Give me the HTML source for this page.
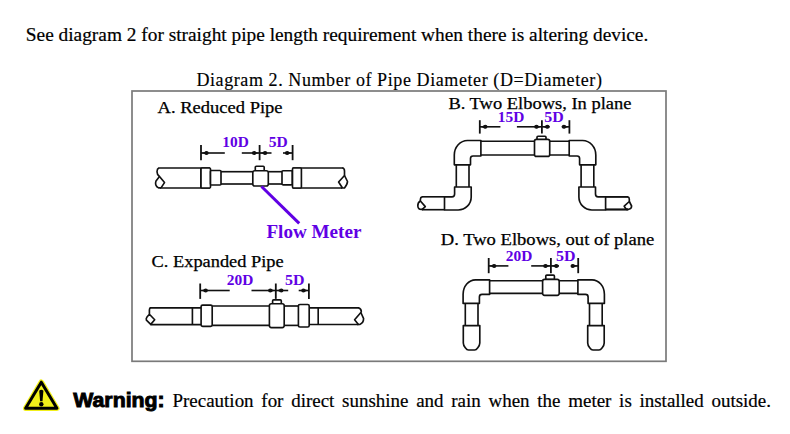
<!DOCTYPE html><html><head><meta charset="utf-8"><style>html,body{margin:0;padding:0;background:#fff;width:790px;height:434px;overflow:hidden}svg{display:block}</style></head><body><svg width="790" height="434" viewBox="0 0 790 434">
<rect width="790" height="434" fill="#fff"/>
<text x="25.8" y="41.3" font-family="Liberation Serif" font-size="19.5" font-weight="normal" fill="#000" stroke="#000" stroke-width="0.2" textLength="622.5" lengthAdjust="spacingAndGlyphs" >See diagram 2 for straight pipe length requirement when there is altering device.</text>
<text x="196.4" y="85.8" font-family="Liberation Serif" font-size="18" font-weight="normal" fill="#000" stroke="#000" stroke-width="0.15" textLength="405.5" lengthAdjust="spacing" >Diagram 2. Number of Pipe Diameter (D=Diameter)</text>
<rect x="132" y="91" width="534" height="270.3" fill="none" stroke="#7a7a7a" stroke-width="1.7"/>
<text x="157.6" y="112.5" font-family="Liberation Serif" font-size="16.5" font-weight="normal" fill="#000" stroke="#000" stroke-width="0.25" textLength="125" lengthAdjust="spacingAndGlyphs" >A. Reduced Pipe</text>
<text x="448.4" y="108.7" font-family="Liberation Serif" font-size="16.5" font-weight="normal" fill="#000" stroke="#000" stroke-width="0.25" textLength="183" lengthAdjust="spacingAndGlyphs" >B. Two Elbows, In plane</text>
<text x="151.6" y="266.6" font-family="Liberation Serif" font-size="16.5" font-weight="normal" fill="#000" stroke="#000" stroke-width="0.25" textLength="132" lengthAdjust="spacingAndGlyphs" >C. Expanded Pipe</text>
<text x="440.8" y="244.8" font-family="Liberation Serif" font-size="16.5" font-weight="normal" fill="#000" stroke="#000" stroke-width="0.25" textLength="213.5" lengthAdjust="spacingAndGlyphs" >D. Two Elbows, out of plane</text>
<line x1="159" y1="168" x2="210" y2="168" stroke="#111" stroke-width="1.65"/>
<line x1="160" y1="188" x2="210" y2="188" stroke="#111" stroke-width="1.65"/>
<line x1="201" y1="168" x2="201" y2="188" stroke="#111" stroke-width="1.65"/>
<path d="M159 167.8 C156.5 169.0 156 174.0 159.5 176.5 L164.5 182.60000000000002 L161 187.9" stroke="#111" stroke-width="1.65" fill="none" stroke-linejoin="round"/>
<path d="M159.5 176.5 L156 181.0 C155 183.8 156 186.5 158.5 187.9 L161 187.9" stroke="#111" stroke-width="1.65" fill="none" stroke-linejoin="round"/>
<rect x="201" y="168" width="9.5" height="20" rx="1" stroke="#111" stroke-width="1.65" fill="#fff"/>
<rect x="210.5" y="170.5" width="10.5" height="14.5" rx="1" stroke="#111" stroke-width="1.65" fill="#fff"/>
<line x1="221" y1="171.7" x2="253" y2="171.7" stroke="#111" stroke-width="1.65"/>
<line x1="221" y1="184" x2="253" y2="184" stroke="#111" stroke-width="1.65"/>
<rect x="255.3" y="166.2" width="8.899999999999977" height="4.800000000000011" rx="1" stroke="#111" stroke-width="1.65" fill="#fff"/>
<rect x="252.8" y="170.7" width="15.5" height="15.300000000000011" rx="2" stroke="#111" stroke-width="1.65" fill="#fff"/>
<line x1="268.3" y1="171.7" x2="282" y2="171.7" stroke="#111" stroke-width="1.65"/>
<line x1="268.3" y1="184" x2="282" y2="184" stroke="#111" stroke-width="1.65"/>
<rect x="282" y="170.7" width="10.300000000000011" height="14.100000000000023" rx="1" stroke="#111" stroke-width="1.65" fill="#fff"/>
<line x1="292.5" y1="168" x2="343" y2="168" stroke="#111" stroke-width="1.65"/>
<line x1="292.5" y1="188" x2="342" y2="188" stroke="#111" stroke-width="1.65"/>
<rect x="292.5" y="168" width="8.899999999999977" height="20" rx="1" stroke="#111" stroke-width="1.65" fill="#fff"/>
<path d="M342.4 167.8 Q344.5 168.5 344.5 171.0 L344.5 175.5 L338.6 182.0 L342.5 188" stroke="#111" stroke-width="1.65" fill="none" stroke-linejoin="round"/>
<path d="M344.5 175.5 L347.5 181.5 Q347.5 184.0 344.5 188 L341 188" stroke="#111" stroke-width="1.65" fill="none" stroke-linejoin="round"/>
<line x1="261.5" y1="186.5" x2="299.2" y2="223.4" stroke="#6000e4" stroke-width="3"/>
<text x="266.4" y="237.6" font-family="Liberation Serif" font-size="18" font-weight="bold" fill="#6000e4" textLength="95" lengthAdjust="spacingAndGlyphs" >Flow Meter</text>
<line x1="201" y1="145" x2="201" y2="160.2" stroke="#111" stroke-width="1.8"/>
<line x1="259.6" y1="145" x2="259.6" y2="160.2" stroke="#111" stroke-width="1.8"/>
<line x1="292.6" y1="145" x2="292.6" y2="160.2" stroke="#111" stroke-width="1.8"/>
<line x1="201" y1="153" x2="224.8" y2="153" stroke="#111" stroke-width="1.6"/>
<line x1="241.8" y1="153" x2="259.6" y2="153" stroke="#111" stroke-width="1.6"/>
<line x1="259.6" y1="153" x2="271.5" y2="153" stroke="#111" stroke-width="1.6"/>
<line x1="283" y1="153" x2="292.6" y2="153" stroke="#111" stroke-width="1.6"/>
<ellipse cx="206.5" cy="153" rx="2.2" ry="2" fill="#111"/>
<path d="M206.5 151.4 L201.3 153 L206.5 154.6 Z" fill="#111"/>
<ellipse cx="254.10000000000002" cy="153" rx="2.2" ry="2" fill="#111"/>
<path d="M254.10000000000002 151.4 L259.3 153 L254.10000000000002 154.6 Z" fill="#111"/>
<ellipse cx="265.1" cy="153" rx="2.2" ry="2" fill="#111"/>
<path d="M265.1 151.4 L259.90000000000003 153 L265.1 154.6 Z" fill="#111"/>
<ellipse cx="287.1" cy="153" rx="2.2" ry="2" fill="#111"/>
<path d="M287.1 151.4 L292.3 153 L287.1 154.6 Z" fill="#111"/>
<text x="222.3" y="146.8" font-family="Liberation Serif" font-size="14" font-weight="bold" fill="#6000e4" textLength="26.5" lengthAdjust="spacingAndGlyphs" >10D</text>
<text x="268.8" y="146.8" font-family="Liberation Serif" font-size="14" font-weight="bold" fill="#6000e4" textLength="19" lengthAdjust="spacingAndGlyphs" >5D</text>
<g>
<path d="M480.9 140.5 L467.5 140.5 A13.2 14.5 0 0 0 454.3 155 L454.3 164.8 L470.5 164.8 L470.5 158.6 Q470.5 156 473 156 L480.9 156 Z" stroke="#111" stroke-width="1.65" fill="#fff" stroke-linejoin="round"/>
<line x1="456.3" y1="164.7" x2="456.3" y2="187" stroke="#111" stroke-width="1.65"/>
<line x1="469" y1="164.7" x2="469" y2="187" stroke="#111" stroke-width="1.65"/>
<path d="M454.6 187 L471.2 187 L471.2 197 A13 13 0 0 1 458.2 210 L444.5 210 L444.5 196.8 L452 196.8 Q454.6 196.8 454.6 194 Z" stroke="#111" stroke-width="1.65" fill="#fff" stroke-linejoin="round"/>
<line x1="444.5" y1="196.8" x2="422" y2="196.8" stroke="#111" stroke-width="1.65"/>
<line x1="444.5" y1="209.7" x2="422" y2="209.7" stroke="#111" stroke-width="1.65"/>
</g>
<g transform="translate(1050.1,0) scale(-1,1)">
<path d="M480.9 140.5 L467.5 140.5 A13.2 14.5 0 0 0 454.3 155 L454.3 164.8 L470.5 164.8 L470.5 158.6 Q470.5 156 473 156 L480.9 156 Z" stroke="#111" stroke-width="1.65" fill="#fff" stroke-linejoin="round"/>
<line x1="456.3" y1="164.7" x2="456.3" y2="187" stroke="#111" stroke-width="1.65"/>
<line x1="469" y1="164.7" x2="469" y2="187" stroke="#111" stroke-width="1.65"/>
<path d="M454.6 187 L471.2 187 L471.2 197 A13 13 0 0 1 458.2 210 L444.5 210 L444.5 196.8 L452 196.8 Q454.6 196.8 454.6 194 Z" stroke="#111" stroke-width="1.65" fill="#fff" stroke-linejoin="round"/>
<line x1="444.5" y1="196.8" x2="422" y2="196.8" stroke="#111" stroke-width="1.65"/>
<line x1="444.5" y1="209.7" x2="422" y2="209.7" stroke="#111" stroke-width="1.65"/>
</g>
<line x1="480.9" y1="141.2" x2="569.2" y2="141.2" stroke="#111" stroke-width="1.65"/>
<line x1="480.9" y1="155" x2="569.2" y2="155" stroke="#111" stroke-width="1.65"/>
<line x1="605.4" y1="196.8" x2="628" y2="196.8" stroke="#111" stroke-width="1.65"/>
<line x1="605.4" y1="209.3" x2="628" y2="209.3" stroke="#111" stroke-width="1.65"/>
<path d="M422.2 196.9 Q420.4 197.3 420.4 199.2 L420.4 201 L425.3 206.6 L422.2 209.4" stroke="#111" stroke-width="1.65" fill="none" stroke-linejoin="round"/>
<path d="M420.4 201 C416.8 203 416.8 209.4 421.4 209.4 L423 209.4" stroke="#111" stroke-width="1.65" fill="none" stroke-linejoin="round"/>
<path d="M627.6 196.8 Q629.3 197.2 629.3 199.2 L629.3 201.5 L624.2 206.2 L626.2 209.3" stroke="#111" stroke-width="1.65" fill="none" stroke-linejoin="round"/>
<path d="M629.3 201.5 L631.6 206 Q631.6 208.8 628.8 209.3 L626 209.3" stroke="#111" stroke-width="1.65" fill="none" stroke-linejoin="round"/>
<rect x="537" y="136.2" width="9" height="3.8000000000000114" rx="1" stroke="#111" stroke-width="1.65" fill="#fff"/>
<rect x="534.5" y="139.3" width="15.200000000000045" height="17.099999999999994" rx="2" stroke="#111" stroke-width="1.65" fill="#fff"/>
<line x1="479.8" y1="120.2" x2="479.8" y2="133.6" stroke="#111" stroke-width="1.8"/>
<line x1="541.9" y1="120.2" x2="541.9" y2="133.6" stroke="#111" stroke-width="1.8"/>
<line x1="569.4" y1="120.2" x2="569.4" y2="133.6" stroke="#111" stroke-width="1.8"/>
<line x1="479.8" y1="126.8" x2="500.4" y2="126.8" stroke="#111" stroke-width="1.6"/>
<line x1="516.9" y1="126.8" x2="541.9" y2="126.8" stroke="#111" stroke-width="1.6"/>
<line x1="541.9" y1="126.8" x2="549.7" y2="126.8" stroke="#111" stroke-width="1.6"/>
<line x1="561.8" y1="126.8" x2="569.4" y2="126.8" stroke="#111" stroke-width="1.6"/>
<ellipse cx="485.3" cy="126.8" rx="2.2" ry="2" fill="#111"/>
<path d="M485.3 125.2 L480.1 126.8 L485.3 128.4 Z" fill="#111"/>
<ellipse cx="536.4" cy="126.8" rx="2.2" ry="2" fill="#111"/>
<path d="M536.4 125.2 L541.6 126.8 L536.4 128.4 Z" fill="#111"/>
<ellipse cx="547.4" cy="126.8" rx="2.2" ry="2" fill="#111"/>
<path d="M547.4 125.2 L542.1999999999999 126.8 L547.4 128.4 Z" fill="#111"/>
<ellipse cx="563.9" cy="126.8" rx="2.2" ry="2" fill="#111"/>
<path d="M563.9 125.2 L569.1 126.8 L563.9 128.4 Z" fill="#111"/>
<text x="497.8" y="121.5" font-family="Liberation Serif" font-size="14" font-weight="bold" fill="#6000e4" textLength="26.5" lengthAdjust="spacingAndGlyphs" >15D</text>
<text x="544.2" y="121.5" font-family="Liberation Serif" font-size="14" font-weight="bold" fill="#6000e4" textLength="19.5" lengthAdjust="spacingAndGlyphs" >5D</text>
<line x1="149.7" y1="307.9" x2="201" y2="307.9" stroke="#111" stroke-width="1.65"/>
<line x1="150.5" y1="324.6" x2="201" y2="324.6" stroke="#111" stroke-width="1.65"/>
<line x1="192.4" y1="307.9" x2="192.4" y2="324.6" stroke="#111" stroke-width="1.65"/>
<path d="M150.6 307.8 Q149.4 308.2 149.4 310 L149.4 314.2 L154.7 319.8 L150.7 324.4 L146.4 320.2 Q145.8 318.5 147 317 L149.4 314.2" stroke="#111" stroke-width="1.65" fill="none" stroke-linejoin="round"/>
<rect x="201.1" y="305.1" width="11.099999999999994" height="21.19999999999999" rx="1.5" stroke="#111" stroke-width="1.65" fill="#fff"/>
<line x1="212.2" y1="306" x2="269.4" y2="306" stroke="#111" stroke-width="1.65"/>
<line x1="212.2" y1="325.4" x2="269.4" y2="325.4" stroke="#111" stroke-width="1.65"/>
<rect x="272.6" y="299.9" width="8.699999999999989" height="4.100000000000023" rx="1" stroke="#111" stroke-width="1.65" fill="#fff"/>
<rect x="269.4" y="303.7" width="14.800000000000011" height="23.900000000000034" rx="2" stroke="#111" stroke-width="1.65" fill="#fff"/>
<line x1="284.2" y1="306" x2="298.4" y2="306" stroke="#111" stroke-width="1.65"/>
<line x1="284.2" y1="325.4" x2="298.4" y2="325.4" stroke="#111" stroke-width="1.65"/>
<rect x="298.4" y="304.5" width="10.800000000000011" height="22.5" rx="1.5" stroke="#111" stroke-width="1.65" fill="#fff"/>
<line x1="309.2" y1="307.9" x2="359" y2="307.9" stroke="#111" stroke-width="1.65"/>
<line x1="309.2" y1="324.5" x2="358.5" y2="324.5" stroke="#111" stroke-width="1.65"/>
<line x1="318.2" y1="307.9" x2="318.2" y2="324.5" stroke="#111" stroke-width="1.65"/>
<path d="M358.6 307.9 Q361.3 308.6 361.3 312 L354.6 319.8 L358.4 324.5" stroke="#111" stroke-width="1.65" fill="none" stroke-linejoin="round"/>
<path d="M361.1 313 L363.6 318.6 Q363.6 323 359.8 324.5 L357 324.5" stroke="#111" stroke-width="1.65" fill="none" stroke-linejoin="round"/>
<line x1="200.2" y1="283.5" x2="200.2" y2="298.9" stroke="#111" stroke-width="1.8"/>
<line x1="275.8" y1="283.5" x2="275.8" y2="298.9" stroke="#111" stroke-width="1.8"/>
<line x1="308.9" y1="283.5" x2="308.9" y2="298.9" stroke="#111" stroke-width="1.8"/>
<line x1="200.2" y1="290.5" x2="229.7" y2="290.5" stroke="#111" stroke-width="1.6"/>
<line x1="251.5" y1="290.5" x2="275.8" y2="290.5" stroke="#111" stroke-width="1.6"/>
<line x1="275.8" y1="290.5" x2="288.2" y2="290.5" stroke="#111" stroke-width="1.6"/>
<line x1="298.7" y1="290.5" x2="308.9" y2="290.5" stroke="#111" stroke-width="1.6"/>
<ellipse cx="205.7" cy="290.5" rx="2.2" ry="2" fill="#111"/>
<path d="M205.7 288.9 L200.5 290.5 L205.7 292.1 Z" fill="#111"/>
<ellipse cx="270.3" cy="290.5" rx="2.2" ry="2" fill="#111"/>
<path d="M270.3 288.9 L275.5 290.5 L270.3 292.1 Z" fill="#111"/>
<ellipse cx="281.3" cy="290.5" rx="2.2" ry="2" fill="#111"/>
<path d="M281.3 288.9 L276.1 290.5 L281.3 292.1 Z" fill="#111"/>
<ellipse cx="303.4" cy="290.5" rx="2.2" ry="2" fill="#111"/>
<path d="M303.4 288.9 L308.59999999999997 290.5 L303.4 292.1 Z" fill="#111"/>
<text x="226.8" y="285.3" font-family="Liberation Serif" font-size="14" font-weight="bold" fill="#6000e4" textLength="26.5" lengthAdjust="spacingAndGlyphs" >20D</text>
<text x="285" y="285.3" font-family="Liberation Serif" font-size="14" font-weight="bold" fill="#6000e4" textLength="19.5" lengthAdjust="spacingAndGlyphs" >5D</text>
<path d="M489.6 279.8 L475.5 279.8 A12.4 14.5 0 0 0 463.1 294.3 L463.1 303.4 L479.4 303.4 L479.4 297 Q479.4 294.4 482 294.4 L489.6 294.4 Z" stroke="#111" stroke-width="1.65" fill="#fff" stroke-linejoin="round"/>
<line x1="465.3" y1="303.4" x2="465.3" y2="325.6" stroke="#111" stroke-width="1.65"/>
<line x1="478" y1="303.4" x2="478" y2="325.6" stroke="#111" stroke-width="1.65"/>
<path d="M463.3 325.6 L479.8 325.6 L479.8 343 Q479.8 345.3 477.8 347.8 Q476.2 350 474.6 350 L468.5 350 Q466.9 350 465.3 347.8 Q463.3 345.3 463.3 343 Z" stroke="#111" stroke-width="1.65" fill="#fff" stroke-linejoin="round"/>
<g transform="translate(1067.5,0) scale(-1,1)">
<path d="M489.6 279.8 L475.5 279.8 A12.4 14.5 0 0 0 463.1 294.3 L463.1 303.4 L479.4 303.4 L479.4 297 Q479.4 294.4 482 294.4 L489.6 294.4 Z" stroke="#111" stroke-width="1.65" fill="#fff" stroke-linejoin="round"/>
<line x1="465.3" y1="303.4" x2="465.3" y2="325.6" stroke="#111" stroke-width="1.65"/>
<line x1="478" y1="303.4" x2="478" y2="325.6" stroke="#111" stroke-width="1.65"/>
<path d="M463.3 325.6 L479.8 325.6 L479.8 343 Q479.8 345.3 477.8 347.8 Q476.2 350 474.6 350 L468.5 350 Q466.9 350 465.3 347.8 Q463.3 345.3 463.3 343 Z" stroke="#111" stroke-width="1.65" fill="#fff" stroke-linejoin="round"/>
</g>
<line x1="489.6" y1="280.7" x2="578" y2="280.7" stroke="#111" stroke-width="1.65"/>
<line x1="489.6" y1="293.3" x2="578" y2="293.3" stroke="#111" stroke-width="1.65"/>
<rect x="545.8" y="275.1" width="8.600000000000023" height="4.5" rx="1" stroke="#111" stroke-width="1.65" fill="#fff"/>
<rect x="542.6" y="279.4" width="16.600000000000023" height="15.900000000000034" rx="2" stroke="#111" stroke-width="1.65" fill="#fff"/>
<line x1="488.7" y1="258" x2="488.7" y2="273.2" stroke="#111" stroke-width="1.8"/>
<line x1="550.9" y1="258" x2="550.9" y2="273.2" stroke="#111" stroke-width="1.8"/>
<line x1="578.2" y1="258" x2="578.2" y2="273.2" stroke="#111" stroke-width="1.8"/>
<line x1="488.7" y1="265.9" x2="508.4" y2="265.9" stroke="#111" stroke-width="1.6"/>
<line x1="531.2" y1="265.9" x2="550.9" y2="265.9" stroke="#111" stroke-width="1.6"/>
<line x1="550.9" y1="265.9" x2="559" y2="265.9" stroke="#111" stroke-width="1.6"/>
<line x1="571" y1="265.9" x2="578.2" y2="265.9" stroke="#111" stroke-width="1.6"/>
<ellipse cx="494.2" cy="265.9" rx="2.2" ry="2" fill="#111"/>
<path d="M494.2 264.29999999999995 L489.0 265.9 L494.2 267.5 Z" fill="#111"/>
<ellipse cx="545.4" cy="265.9" rx="2.2" ry="2" fill="#111"/>
<path d="M545.4 264.29999999999995 L550.6 265.9 L545.4 267.5 Z" fill="#111"/>
<ellipse cx="556.4" cy="265.9" rx="2.2" ry="2" fill="#111"/>
<path d="M556.4 264.29999999999995 L551.1999999999999 265.9 L556.4 267.5 Z" fill="#111"/>
<ellipse cx="572.7" cy="265.9" rx="2.2" ry="2" fill="#111"/>
<path d="M572.7 264.29999999999995 L577.9000000000001 265.9 L572.7 267.5 Z" fill="#111"/>
<text x="505.8" y="260.9" font-family="Liberation Serif" font-size="14" font-weight="bold" fill="#6000e4" textLength="26.5" lengthAdjust="spacingAndGlyphs" >20D</text>
<text x="556" y="260.9" font-family="Liberation Serif" font-size="14" font-weight="bold" fill="#6000e4" textLength="19.5" lengthAdjust="spacingAndGlyphs" >5D</text>
<path d="M41.3 382.2 L56.9 408.3 L25.6 408.3 Z" fill="#f2f01a" stroke="#f2f01a" stroke-width="5.4" stroke-linejoin="round"/>
<path d="M41.3 382.2 L56.9 408.3 L25.6 408.3 Z" fill="#f2f01a" stroke="#000" stroke-width="3" stroke-linejoin="round"/>
<path d="M39.2 390.8 Q41.3 388.6 43.4 390.8 L42.5 401.3 L40.1 401.3 Z" fill="#000"/>
<circle cx="41.3" cy="404.2" r="2.2" fill="#000"/>
<text x="73.2" y="406.5" font-family="Liberation Sans" font-size="20" font-weight="bold" fill="#000" stroke="#000" stroke-width="0.9" textLength="91.5" lengthAdjust="spacingAndGlyphs" >Warning:</text>
<text x="172.5" y="407.0" font-family="Liberation Serif" font-size="19" font-weight="normal" fill="#000" stroke="#000" stroke-width="0.2" textLength="598.5" lengthAdjust="spacingAndGlyphs" word-spacing="3">Precaution for direct sunshine and rain when the meter is installed outside.</text>
</svg></body></html>
